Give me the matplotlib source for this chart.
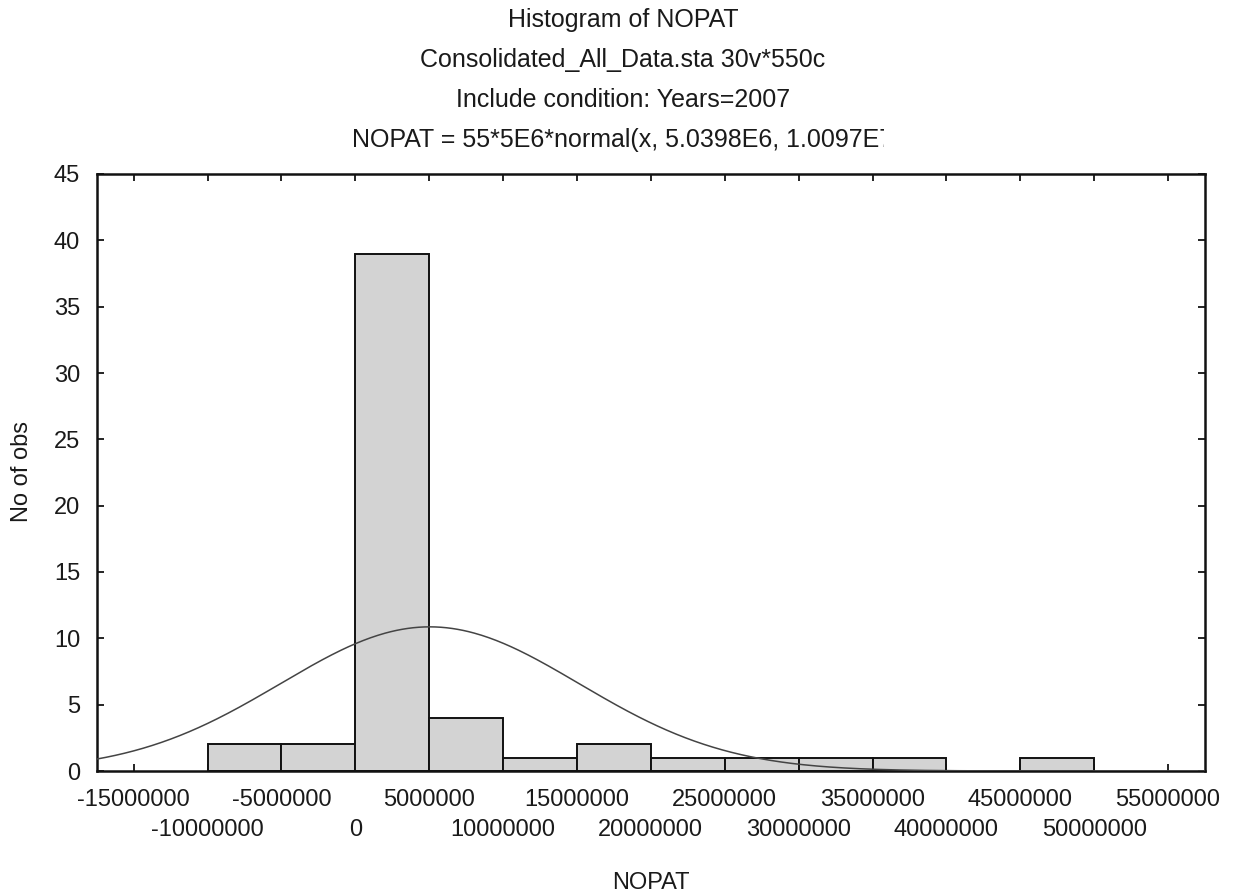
import numpy as np
import matplotlib
matplotlib.use("Agg")
import matplotlib.pyplot as plt
from matplotlib.transforms import Bbox, TransformedBbox

plt.rcParams['font.family'] = ['Liberation Sans', 'DejaVu Sans']

# histogram bins (NOPAT, width 5E6) and counts
bin_left = [-10e6, -5e6, 0, 5e6, 10e6, 15e6, 20e6, 25e6, 30e6, 35e6, 40e6, 45e6]
counts = [2, 2, 39, 4, 1, 2, 1, 1, 1, 1, 0, 1]
bin_width = 5e6

# fitted normal from the title
n_obs = 55
fit_mean = 5.0398e6
fit_sd = 1.0097e7

xticks = [-15e6, -10e6, -5e6, 0, 5e6, 10e6, 15e6, 20e6, 25e6, 30e6, 35e6,
          40e6, 45e6, 50e6, 55e6]
xtick_labels = ["-15000000", "-10000000", "-5000000", "0", "5000000",
                "10000000", "15000000", "20000000", "25000000", "30000000",
                "35000000", "40000000", "45000000", "50000000", "55000000"]
yticks = [0, 5, 10, 15, 20, 25, 30, 35, 40, 45]

titles = ["Histogram of NOPAT",
          "Consolidated_All_Data.sta 30v*550c",
          "Include condition: Years=2007",
          "NOPAT = 55*5E6*normal(x, 5.0398E6, 1.0097E7"]

W, H = 1237, 896
fig = plt.figure(figsize=(W / 100, H / 100), dpi=100)
ax = fig.add_axes([96.7 / W, 1 - 771 / H, (1205 - 96.7) / W, (771 - 174) / H])

ax.bar(bin_left, counts, width=bin_width, align="edge",
       color="#d3d3d3", edgecolor="#111111", linewidth=1.4, zorder=2)

xs = np.linspace(-17.5e6, 57.5e6, 600)
ys = n_obs * bin_width * np.exp(-0.5 * ((xs - fit_mean) / fit_sd) ** 2) / (fit_sd * np.sqrt(2 * np.pi))
ax.plot(xs, ys, color="#444444", linewidth=1.1, zorder=3)

ax.set_xlim(-17.5e6, 57.5e6)
ax.set_ylim(0, 45)
ax.set_yticks(yticks)
ax.set_xticks(xticks)
ax.set_xticklabels([])

# staggered x labels, two rows
for i, (xv, lab) in enumerate(zip(xticks, xtick_labels)):
    off = -29 if i % 2 == 0 else -59
    ax.annotate(lab, xy=(xv, 0), xycoords=ax.get_xaxis_transform(),
                xytext=(0, off * 0.72), textcoords="offset points",
                ha="center", va="center", fontsize=17, color="#1a1a1a")

ax.tick_params(axis="both", direction="in", length=5, width=1.2,
               labelsize=17, top=True, right=True)
ax.tick_params(axis="y", pad=12, labelcolor="#1a1a1a")
for sp in ax.spines.values():
    sp.set_linewidth(1.8)
    sp.set_color("#111111")

fig.text(22 / W, 1 - 472 / H, "No of obs", rotation=90, ha="center", va="center",
         fontsize=17, color="#1a1a1a")
fig.text(651 / W, 1 - 883 / H, "NOPAT", ha="center", va="center",
         fontsize=17, color="#1a1a1a")

# last title line is cut off at the right in the original
clip = TransformedBbox(Bbox([[0, 0], [884 / W, 1]]), fig.transFigure)
for i, t in enumerate(titles):
    txt = fig.text(623 / W, 1 - (20 + 40 * i) / H, t, ha="center", va="center",
                   fontsize=18, color="#1a1a1a")
    if i == 3:
        txt.set_clip_box(clip)
        txt.set_clip_on(True)

fig.savefig("out.png", dpi=100)
